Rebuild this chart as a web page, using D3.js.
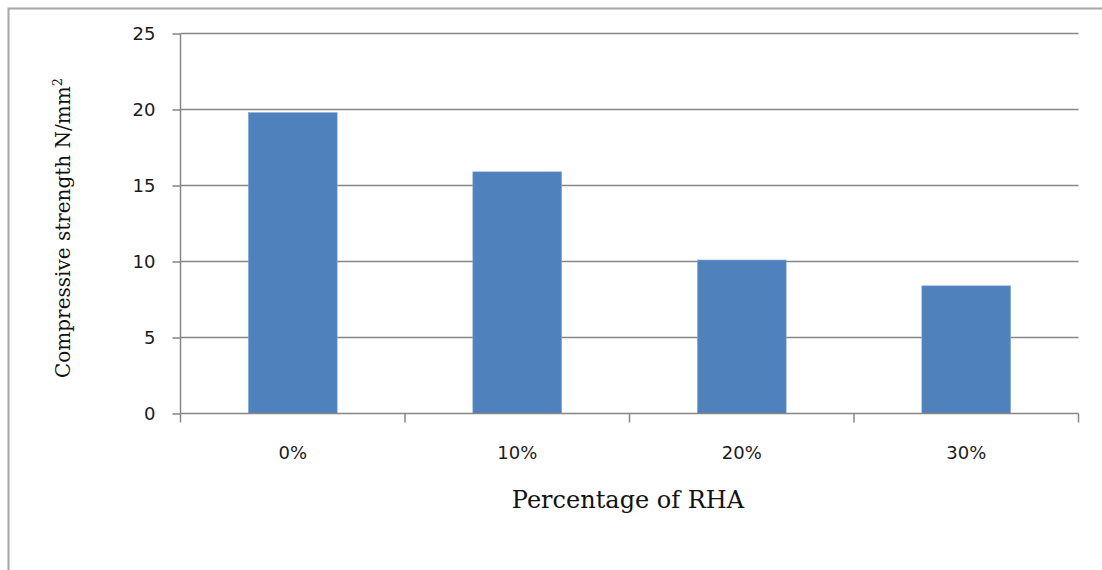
<!DOCTYPE html>
<html>
<head>
<meta charset="utf-8">
<script src="https://cdn.jsdelivr.net/npm/d3@7"></script>
<style>
  body { margin: 0; background: #fff; }
</style>
</head>
<body>
<div id="vis"></div>
<script>
const categories = ["0%", "10%", "20%", "30%"];
const strength = [19.8, 15.9, 10.1, 8.4];
const yTicks = [0, 5, 10, 15, 20, 25];

const width = 1102, height = 570;
const plot = {left: 180.5, right: 1078.5, top: 33.5, bottom: 413.5};

const svg = d3.select("#vis").append("svg")
    .attr("width", width)
    .attr("height", height);

// outer frame (only left and top show in the picture)
svg.append("path")
    .attr("d", `M8.5,${height} V8.5 H${width}`)
    .attr("fill", "none")
    .attr("stroke", "#a6a6a6")
    .attr("stroke-width", 2);

const x = d3.scaleBand()
    .domain(categories)
    .range([plot.left, plot.right])
    .paddingInner(0.604)
    .paddingOuter(0.302);

const y = d3.scaleLinear()
    .domain([0, 25])
    .range([plot.bottom, plot.top]);

// gridlines + y axis
const yAxis = svg.append("g")
    .attr("transform", `translate(${plot.left},0)`)
    .call(d3.axisLeft(y).tickValues(yTicks).tickSize(8).tickPadding(17))
yAxis.select(".domain").remove();
yAxis.selectAll(".tick line").attr("stroke", "#868686").attr("stroke-width", 1.5);
yAxis.selectAll(".tick text")
    .attr("font-family", "DejaVu Sans, Verdana, sans-serif")
    .attr("font-size", 18)
    .attr("fill", "#1a1a1a");

svg.append("g")
    .selectAll("line")
    .data(yTicks.filter(d => d > 0))
    .join("line")
        .attr("x1", plot.left)
        .attr("x2", plot.right)
        .attr("y1", d => y(d))
        .attr("y2", d => y(d))
        .attr("stroke", "#868686")
        .attr("stroke-width", 1.5);

svg.append("line")
    .attr("x1", plot.left).attr("x2", plot.left)
    .attr("y1", plot.top).attr("y2", plot.bottom)
    .attr("stroke", "#868686").attr("stroke-width", 1.5);

// bars
svg.append("g")
    .selectAll("rect")
    .data(strength)
    .join("rect")
        .attr("x", (d, i) => x(categories[i]))
        .attr("y", d => y(d))
        .attr("width", x.bandwidth())
        .attr("height", d => y(0) - y(d))
        .attr("fill", "#4f81bd")
        .attr("stroke", "#8fb0da")
        .attr("stroke-width", 0.6);

// x axis: ticks sit between categories
const step = x.step();
const bounds = d3.range(categories.length + 1).map(i => plot.left + i * step);
svg.append("line")
    .attr("x1", plot.left).attr("x2", plot.right)
    .attr("y1", plot.bottom).attr("y2", plot.bottom)
    .attr("stroke", "#868686").attr("stroke-width", 1.5);
svg.append("g")
    .selectAll("line")
    .data(bounds)
    .join("line")
        .attr("x1", d => d).attr("x2", d => d)
        .attr("y1", plot.bottom).attr("y2", plot.bottom + 9)
        .attr("stroke", "#868686").attr("stroke-width", 1.5);
svg.append("g")
    .selectAll("text")
    .data(categories)
    .join("text")
        .attr("x", d => x(d) + x.bandwidth() / 2)
        .attr("y", 459)
        .attr("text-anchor", "middle")
        .attr("font-family", "DejaVu Sans, Verdana, sans-serif")
        .attr("font-size", 18)
        .attr("fill", "#1a1a1a")
        .text(d => d);

// axis titles
svg.append("text")
    .attr("x", 628)
    .attr("y", 508)
    .attr("text-anchor", "middle")
    .attr("font-family", "DejaVu Serif, serif")
    .attr("font-size", 24)
    .attr("fill", "#111")
    .text("Percentage of RHA");

const yTitle = svg.append("text")
    .attr("transform", "translate(70,228) rotate(-90)")
    .attr("text-anchor", "middle")
    .attr("font-family", "DejaVu Serif, serif")
    .attr("font-size", 20)
    .attr("fill", "#111");
yTitle.append("tspan").text("Compressive strength N/mm");
yTitle.append("tspan").attr("dy", -8).attr("font-size", 13).text("2");
</script>
</body>
</html>
